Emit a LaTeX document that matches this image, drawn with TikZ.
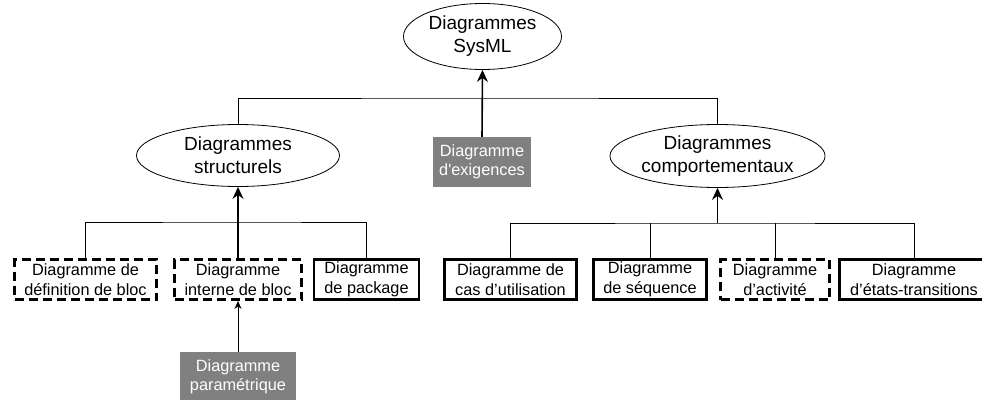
\documentclass[tikz,border=0pt]{standalone}
\usepackage{fontspec}
\setmainfont{Liberation Sans}
\usetikzlibrary{shapes.geometric,arrows.meta}
\definecolor{boxgray}{HTML}{808080}
\begin{document}
\begin{tikzpicture}[x=1pt,y=-1pt,
  ell/.style={draw, ellipse, line width=0.8pt, inner sep=0pt, align=center,
    font=\fontsize{19}{23}\selectfont},
  box/.style={draw, line width=2.8pt, minimum height=40pt, inner sep=0pt,
    align=center, font=\fontsize{16.3}{20}\selectfont},
  dbox/.style={box, dash pattern=on 9pt off 5pt},
  gbox/.style={fill=boxgray, text=white, inner sep=0pt, align=center,
    minimum height=50pt, font=\fontsize{16.3}{19}\selectfont},
  link/.style={line width=0.8pt},
  up/.style={line width=1.6pt, -{Stealth[length=12pt,width=11pt,inset=4pt]}},
  smallup/.style={line width=0.8pt, -{Stealth[length=8pt,width=7pt,inset=2.5pt]}}
]
\useasboundingbox (0,0) rectangle (982,399);

% top level
\node[ell, minimum width=158pt, minimum height=66pt] (sysml) at (482.5,36.5)
  {Diagrammes\\SysML};
\node[ell, minimum width=203pt, minimum height=62pt] (struct) at (238,155.5)
  {Diagrammes\\structurels};
\node[ell, minimum width=204pt, minimum height=63pt] (comport) at (717.5,156)
  {Diagrammes\\comportementaux};
\node[gbox, minimum width=98pt] (exig) at (482,162)
  {Diagramme\\d\textquotesingle exigences};

% structural diagrams
\node[dbox, minimum width=142pt] (bdd) at (85.5,279.5)
  {Diagramme de\\définition de bloc};
\node[dbox, minimum width=127pt] (ibd) at (238,279.5)
  {Diagramme\\interne de bloc};
\node[box, minimum width=105pt] (pkg) at (366.5,279.5)
  {Diagramme\\de package};
\node[gbox, minimum width=116pt] (par) at (238,377)
  {Diagramme\\paramétrique};

% behavioural diagrams
\node[box, minimum width=132pt] (uc) at (510.5,279.5)
  {Diagramme de\\cas d’utilisation};
\node[box, minimum width=113pt] (seq) at (650,279.5)
  {Diagramme\\de séquence};
\node[dbox, minimum width=109pt] (act) at (775,279.5)
  {Diagramme\\d’activité};
\node[box, minimum width=149pt] (stm) at (914,279.5)
  {Diagramme\\d’états-transitions};

% junction points of the tree connectors
\coordinate (jtop) at (482.5,98);
\coordinate (jleft) at (238,222);
\coordinate (jright) at (717.5,223);

% connectors
\draw[link] (struct.north) |- (jtop) -| (comport.north);
\draw[up] (exig.north) -- (sysml.south);

\draw[link] (bdd.north) |- (jleft) -| (pkg.north);
\draw[up] (ibd.north) -- (struct.south);
\draw[smallup] (par.north) -- (ibd.south);

\draw[link] (uc.north) |- (jright) -| (stm.north);
\draw[link] (seq.north) -- (seq.north |- jright);
\draw[link] (act.north) -- (act.north |- jright);
\draw[up] (jright) -- (comport.south);
\end{tikzpicture}
\end{document}
